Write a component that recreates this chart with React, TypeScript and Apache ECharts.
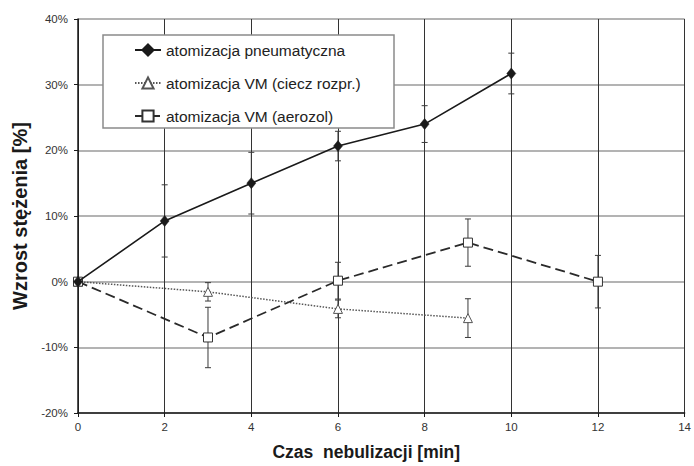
import React, { useEffect, useRef } from "react";
import * as echarts from "echarts";

// ---- data ----
const seriesNames = [
  "atomizacja pneumatyczna",
  "atomizacja VM (ciecz rozpr.)",
  "atomizacja VM (aerozol)",
];

const pneumX = [0, 2, 4, 6, 8, 10];
const pneumY = [0, 9.25, 15.0, 20.65, 24.0, 31.7];
const pneumErr = [0, 5.5, 4.7, 2.25, 2.8, 3.1];

const cieczX = [0, 3, 6, 9];
const cieczY = [0, -1.55, -4.15, -5.55];
const cieczErr = [0, 1.4, 1.35, 2.95];

const aerozolX = [0, 3, 6, 9, 12];
const aerozolY = [0, -8.5, 0.15, 5.95, 0];
const aerozolErr = [0, 4.6, 2.8, 3.6, 4.0];

const xTicks = [0, 2, 4, 6, 8, 10, 12, 14];
const yTicks = [-20, -10, 0, 10, 20, 30, 40];

const xTitle = "Czas  nebulizacji [min]";
const yTitle = "Wzrost stężenia [%]";

const FONT = "'Liberation Sans', Arial, sans-serif";

function pairs(xs: number[], ys: number[]) {
  return xs.map((x, i) => [x, ys[i]]);
}
function errData(xs: number[], ys: number[], es: number[]) {
  const out: number[][] = [];
  xs.forEach((x, i) => {
    if (es[i] > 0) out.push([x, ys[i] - es[i], ys[i] + es[i]]);
  });
  return out;
}

function renderErr(params: any, api: any) {
  const x = api.value(0);
  const lo = api.value(1);
  const hi = api.value(2);
  const pT = api.coord([x, hi]);
  const pB = api.coord([x, lo]);
  const cap = 3;
  const style = { stroke: "#3a3a3a", lineWidth: 1 };
  return {
    type: "group",
    children: [
      { type: "line", shape: { x1: pT[0], y1: pT[1], x2: pB[0], y2: pB[1] }, style },
      { type: "line", shape: { x1: pT[0] - cap, y1: pT[1], x2: pT[0] + cap, y2: pT[1] }, style },
      { type: "line", shape: { x1: pB[0] - cap, y1: pB[1], x2: pB[0] + cap, y2: pB[1] }, style },
    ],
  };
}

export default function App() {
  const ref = useRef<HTMLDivElement>(null);

  useEffect(() => {
    document.body.style.margin = "0";
    if (!ref.current) return;
    const chart = echarts.init(ref.current, null, { renderer: "svg" });
    const option: any = {
      animation: false,
      backgroundColor: "#ffffff",
      textStyle: { fontFamily: FONT },
      grid: { left: 78, right: 4, top: 19, bottom: 47, containLabel: false },
      xAxis: {
        type: "value",
        min: xTicks[0],
        max: xTicks[xTicks.length - 1],
        interval: 2,
        name: xTitle,
        nameLocation: "middle",
        nameGap: 30,
        nameTextStyle: {
          fontFamily: FONT,
          fontWeight: "bold",
          fontSize: 17.5,
          color: "#1a1a1a",
          padding: [0, 30, 0, 0],
        },
        axisLine: { show: true, onZero: false, lineStyle: { color: "#1a1a1a", width: 1.5 } },
        axisTick: { show: true, inside: false, length: 4, lineStyle: { color: "#1a1a1a", width: 1 } },
        axisLabel: { margin: 8, fontSize: 11.5, color: "#333", fontFamily: FONT },
        splitLine: { show: true, lineStyle: { color: "#333", width: 1 } },
      },
      yAxis: {
        type: "value",
        min: yTicks[0],
        max: yTicks[yTicks.length - 1],
        interval: 10,
        name: yTitle,
        nameLocation: "middle",
        nameGap: 46,
        nameTextStyle: {
          fontFamily: FONT,
          fontWeight: "bold",
          fontSize: 20,
          color: "#1a1a1a",
        },
        axisLine: { show: true, onZero: false, lineStyle: { color: "#1a1a1a", width: 1.5 } },
        axisTick: { show: true, inside: false, length: 4, lineStyle: { color: "#1a1a1a", width: 1 } },
        axisLabel: {
          margin: 10,
          fontSize: 11.5,
          color: "#333",
          fontFamily: FONT,
          formatter: (v: number) => `${v}%`,
        },
        splitLine: { show: true, lineStyle: { color: "#9a9a9a", width: 1.5 } },
      },
      graphic: [
        {
          type: "rect",
          z: 3,
          shape: { x: 103, y: 35, width: 291, height: 93 },
          style: { fill: "#ffffff", stroke: "#8a8a8a", lineWidth: 1.5 },
        },
      ],
      legend: {
        show: true,
        z: 5,
        orient: "vertical",
        left: 134,
        top: 42,
        padding: 0,
        itemWidth: 26,
        itemHeight: 14,
        itemGap: 17,
        data: seriesNames,
        textStyle: { fontFamily: FONT, fontSize: 15.5, color: "#222" },
      },
      series: [
        {
          name: seriesNames[1],
          type: "line",
          z: 2,
          data: pairs(cieczX, cieczY),
          symbol: "triangle",
          symbolSize: 9,
          itemStyle: { color: "#ffffff", borderColor: "#555", borderWidth: 1 },
          lineStyle: { color: "#555", width: 1.5, type: [1.5, 1.5] },
        },
        {
          name: seriesNames[2],
          type: "line",
          z: 2,
          data: pairs(aerozolX, aerozolY),
          symbol: "rect",
          symbolSize: 9,
          itemStyle: { color: "#ffffff", borderColor: "#333", borderWidth: 1 },
          lineStyle: { color: "#2a2a2a", width: 1.8, type: [10, 5] },
        },
        {
          name: seriesNames[0],
          type: "line",
          z: 3,
          data: pairs(pneumX, pneumY),
          symbol: "diamond",
          symbolSize: [9, 11],
          itemStyle: { color: "#1a1a1a", borderColor: "#1a1a1a", borderWidth: 0.5 },
          lineStyle: { color: "#1a1a1a", width: 1.6 },
        },
        {
          type: "custom",
          z: 1,
          renderItem: renderErr,
          encode: { x: 0, y: [1, 2] },
          data: errData(pneumX, pneumY, pneumErr),
        },
        {
          type: "custom",
          z: 1,
          renderItem: renderErr,
          encode: { x: 0, y: [1, 2] },
          data: errData(cieczX, cieczY, cieczErr),
        },
        {
          type: "custom",
          z: 1,
          renderItem: renderErr,
          encode: { x: 0, y: [1, 2] },
          data: errData(aerozolX, aerozolY, aerozolErr),
        },
      ],
    };
    chart.setOption(option);
    return () => chart.dispose();
  }, []);

  return <div ref={ref} style={{ width: 694, height: 466 }} />;
}
